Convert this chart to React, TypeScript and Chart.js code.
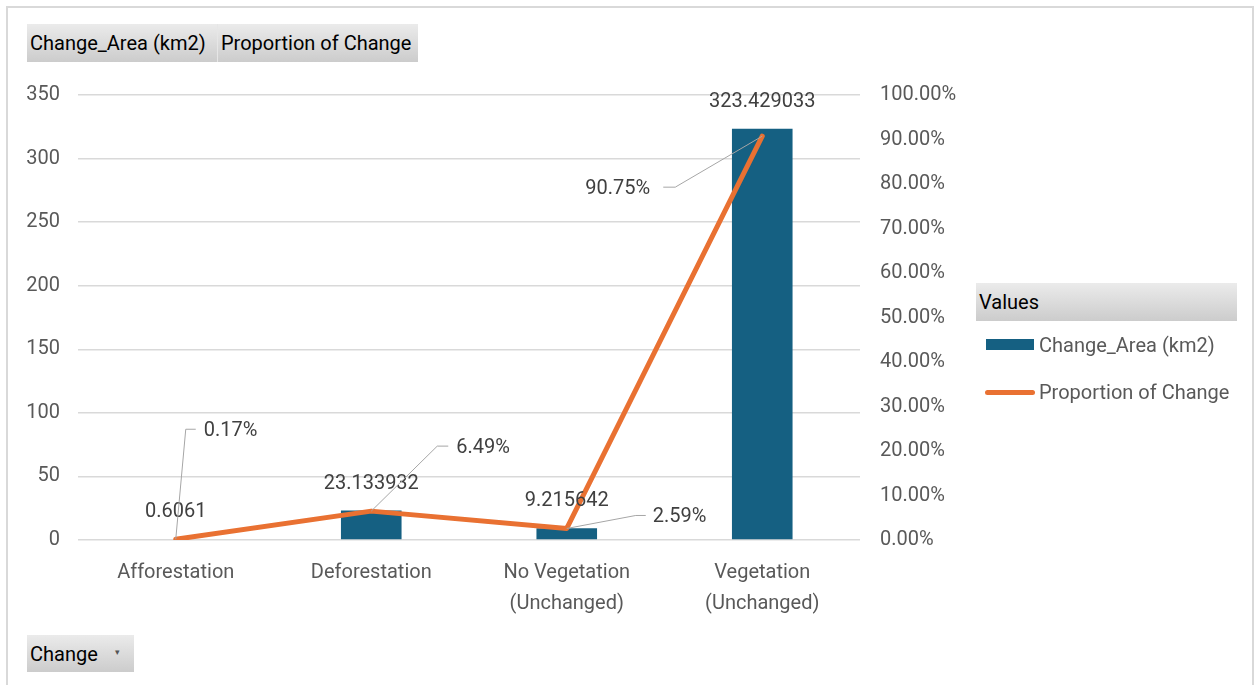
import React, { useEffect, useRef } from "react";
import { Chart, registerables } from "chart.js";

Chart.register(...registerables);

// Categories (multi-line labels where the category wraps)
const categories: (string | string[])[] = [
  "Afforestation",
  "Deforestation",
  ["No Vegetation", "(Unchanged)"],
  ["Vegetation", "(Unchanged)"],
];

// Change_Area (km2)
const changeArea = [0.6061, 23.133932, 9.215642, 323.429033];

// Proportion of Change (fraction)
const proportion = [0.0017, 0.0649, 0.0259, 0.9075];

// Axis settings
const areaMax = 350;
const areaStep = 50;
const propMax = 1;
const propStep = 0.1;

const AREA_COLOR = "#156082";
const PROP_COLOR = "#E97132";
const FONT = "Roboto, 'Liberation Sans', Arial, sans-serif";

// Leader-line layout for the percentage labels: elbow point, end of the
// short horizontal stub, text anchor, all relative to the data point.
const leaderLayout = [
  { ex: 10, ey: -110, sx: 20, tx: 28, align: "left" as CanvasTextAlign },
  { ex: 66, ey: -65, sx: 77, tx: 85, align: "left" as CanvasTextAlign },
  { ex: 69, ey: -13, sx: 79, tx: 86, align: "left" as CanvasTextAlign },
  { ex: -87, ey: 51, sx: -99, tx: -112, align: "right" as CanvasTextAlign },
];

const pctText = (v: number) => (v * 100).toFixed(2) + "%";

const labelPlugin = {
  id: "valueLabels",
  afterDatasetsDraw(chart: any) {
    const ctx: CanvasRenderingContext2D = chart.ctx;
    ctx.save();
    ctx.font = `20px ${FONT}`;
    ctx.fillStyle = "#404040";
    ctx.textBaseline = "middle";

    // bar value labels, above each bar
    const barMeta = chart.getDatasetMeta(0);
    barMeta.data.forEach((el: any, i: number) => {
      ctx.textAlign = "center";
      ctx.fillText(String(changeArea[i]), el.x, el.y - 27);
    });

    // percentage labels with leader lines
    const lineMeta = chart.getDatasetMeta(1);
    lineMeta.data.forEach((el: any, i: number) => {
      const l = leaderLayout[i];
      ctx.strokeStyle = "#A6A6A6";
      ctx.lineWidth = 1;
      ctx.beginPath();
      ctx.moveTo(el.x, el.y);
      ctx.lineTo(el.x + l.ex, el.y + l.ey);
      ctx.lineTo(el.x + l.sx, el.y + l.ey);
      ctx.stroke();
      ctx.textAlign = l.align;
      ctx.fillText(pctText(proportion[i]), el.x + l.tx, el.y + l.ey + 2);
    });
    ctx.restore();
  },
};

const buttonStyle: React.CSSProperties = {
  position: "absolute",
  background: "linear-gradient(#EBEBEB, #CCCCCC)",
  color: "#000",
  fontFamily: FONT,
  fontSize: 20,
  display: "flex",
  alignItems: "center",
  boxSizing: "border-box",
  whiteSpace: "nowrap",
};

export default function App() {
  const canvasRef = useRef<HTMLCanvasElement | null>(null);

  useEffect(() => {
    if (!canvasRef.current) return;
    const chart = new Chart(canvasRef.current, {
      type: "bar",
      data: {
        labels: categories as any,
        datasets: [
          {
            type: "bar",
            label: "Change_Area (km2)",
            data: changeArea,
            backgroundColor: AREA_COLOR,
            yAxisID: "y",
            categoryPercentage: 1,
            barPercentage: 0.31,
            order: 2,
          },
          {
            type: "line",
            label: "Proportion of Change",
            data: proportion,
            borderColor: PROP_COLOR,
            backgroundColor: PROP_COLOR,
            borderWidth: 5,
            pointRadius: 0,
            borderCapStyle: "round",
            borderJoinStyle: "round",
            tension: 0,
            yAxisID: "y1",
            order: 1,
          } as any,
        ],
      },
      options: {
        responsive: false,
        animation: false,
        layout: { padding: { left: 0, top: 95, right: 0, bottom: 0 } },
        plugins: {
          legend: { display: false },
          tooltip: { enabled: false },
          title: { display: false },
        },
        scales: {
          x: {
            grid: { display: false, drawTicks: false },
            border: { display: false },
            ticks: {
              color: "#595959",
              font: { family: FONT, size: 20, lineHeight: 1.55 },
              padding: 17,
              maxRotation: 0,
              autoSkip: false,
            },
            afterFit: (s: any) => {
              s.height = 145;
            },
          },
          y: {
            position: "left",
            min: 0,
            max: areaMax,
            grid: { color: "#D9D9D9", lineWidth: 1.5, drawTicks: false },
            border: { display: false },
            ticks: {
              stepSize: areaStep,
              color: "#595959",
              font: { family: FONT, size: 20 },
              padding: 18,
            },
            afterFit: (s: any) => {
              s.width = 78;
            },
          },
          y1: {
            position: "right",
            min: 0,
            max: propMax,
            grid: { display: false, drawTicks: false },
            border: { display: false },
            ticks: {
              stepSize: propStep,
              color: "#595959",
              font: { family: FONT, size: 20 },
              padding: 20,
              callback: (v: any) => pctText(Number(v)),
            },
            afterFit: (s: any) => {
              s.width = 396;
            },
          },
        },
      },
      plugins: [labelPlugin],
    });
    return () => chart.destroy();
  }, []);

  return (
    <div
      style={{
        position: "fixed",
        left: 0,
        top: 0,
        width: 1256,
        height: 685,
        background: "#fff",
        overflow: "hidden",
      }}
    >
      <div
        style={{
          position: "absolute",
          left: 6,
          top: 6,
          width: 1248,
          height: 720,
          border: "2px solid #D9D9D9",
          boxSizing: "border-box",
        }}
      />
      <canvas
        ref={canvasRef}
        width={1256}
        height={685}
        style={{ position: "absolute", left: 0, top: 0 }}
      />

      {/* field buttons */}
      <div style={{ ...buttonStyle, left: 27, top: 24, width: 190, height: 38, paddingLeft: 3 }}>
        Change_Area (km2)
      </div>
      <div
        style={{
          ...buttonStyle,
          left: 217,
          top: 24,
          width: 201,
          height: 38,
          paddingLeft: 3,
          borderLeft: "1px solid #E6E6E6",
        }}
      >
        Proportion of Change
      </div>
      <div style={{ ...buttonStyle, left: 27, top: 635, width: 107, height: 37, paddingLeft: 3 }}>
        Change
        <span style={{ position: "absolute", left: 88, top: 12, fontSize: 9, color: "#555" }}>▾</span>
      </div>

      {/* legend */}
      <div style={{ ...buttonStyle, left: 976, top: 283, width: 261, height: 38, paddingLeft: 3 }}>
        Values
      </div>
      <div
        style={{
          position: "absolute",
          left: 986,
          top: 339,
          width: 48,
          height: 11,
          background: AREA_COLOR,
        }}
      />
      <div
        style={{
          position: "absolute",
          left: 1039,
          top: 331,
          fontFamily: FONT,
          fontSize: 20,
          color: "#595959",
          lineHeight: "28px",
          whiteSpace: "nowrap",
        }}
      >
        Change_Area (km2)
      </div>
      <div
        style={{
          position: "absolute",
          left: 985,
          top: 390,
          width: 50,
          height: 5,
          borderRadius: 3,
          background: PROP_COLOR,
        }}
      />
      <div
        style={{
          position: "absolute",
          left: 1039,
          top: 378,
          fontFamily: FONT,
          fontSize: 20,
          color: "#595959",
          lineHeight: "28px",
          whiteSpace: "nowrap",
        }}
      >
        Proportion of Change
      </div>
    </div>
  );
}
